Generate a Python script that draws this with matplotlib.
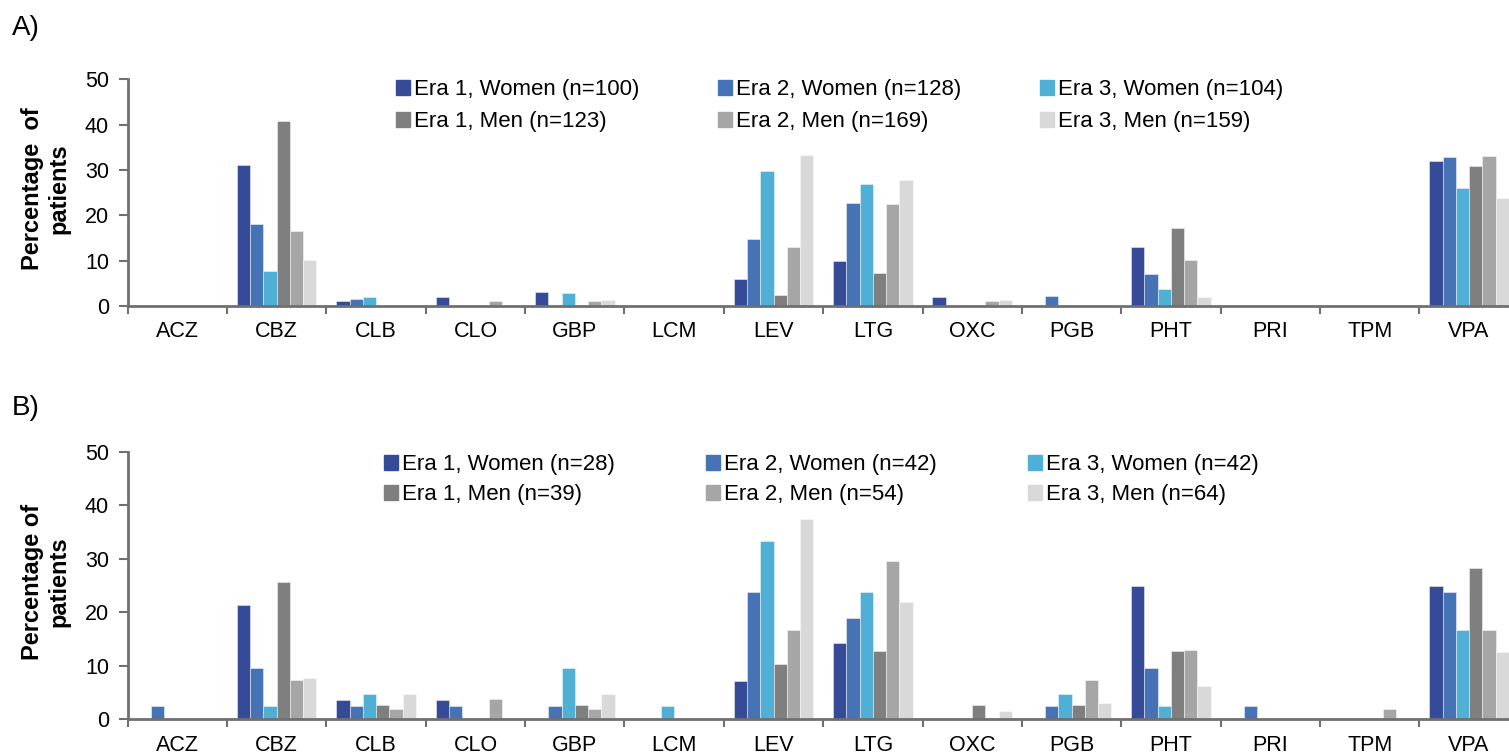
import numpy as np
import matplotlib.pyplot as plt
from matplotlib.patches import Patch
from matplotlib.legend import Legend

plt.rcParams['font.family'] = ['Liberation Sans', 'DejaVu Sans']

drugs = ["ACZ", "CBZ", "CLB", "CLO", "GBP", "LCM", "LEV", "LTG",
         "OXC", "PGB", "PHT", "PRI", "TPM", "VPA"]

# Panel A - percentage of patients per drug
a_era1_women = [0, 31.0, 1.0, 2.0, 3.0, 0, 6.0, 10.0, 2.0, 0, 13.0, 0, 0, 32.0]
a_era2_women = [0, 18.0, 1.6, 0, 0, 0, 14.8, 22.7, 0, 2.3, 7.0, 0, 0, 32.8]
a_era3_women = [0, 7.7, 1.9, 0, 2.9, 0, 29.8, 26.9, 0, 0, 3.8, 0, 0, 26.0]
a_era1_men = [0, 40.7, 0, 0, 0, 0, 2.4, 7.3, 0, 0, 17.1, 0, 0, 30.9]
a_era2_men = [0, 16.6, 0, 1.2, 1.2, 0, 13.0, 22.5, 1.2, 0, 10.1, 0, 0, 33.1]
a_era3_men = [0, 10.1, 0, 0, 1.3, 0, 33.3, 27.7, 1.3, 0, 1.9, 0, 0, 23.9]
a_labels = ["Era 1, Women (n=100)", "Era 2, Women (n=128)", "Era 3, Women (n=104)",
            "Era 1, Men (n=123)", "Era 2, Men (n=169)", "Era 3, Men (n=159)"]

# Panel B
b_era1_women = [0, 21.4, 3.6, 3.6, 0, 0, 7.1, 14.3, 0, 0, 25.0, 0, 0, 25.0]
b_era2_women = [2.4, 9.5, 2.4, 2.4, 2.4, 0, 23.8, 19.0, 0, 2.4, 9.5, 2.4, 0, 23.8]
b_era3_women = [0, 2.4, 4.8, 0, 9.5, 2.4, 33.3, 23.8, 0, 4.8, 2.4, 0, 0, 16.7]
b_era1_men = [0, 25.6, 2.6, 0, 2.6, 0, 10.3, 12.8, 2.6, 2.6, 12.8, 0, 0, 28.2]
b_era2_men = [0, 7.4, 1.9, 3.7, 1.9, 0, 16.7, 29.6, 0, 7.4, 13.0, 0, 1.9, 16.7]
b_era3_men = [0, 7.8, 4.7, 0, 4.7, 0, 37.5, 21.9, 1.6, 3.1, 6.3, 0, 0, 12.5]
b_labels = ["Era 1, Women (n=28)", "Era 2, Women (n=42)", "Era 3, Women (n=42)",
            "Era 1, Men (n=39)", "Era 2, Men (n=54)", "Era 3, Men (n=64)"]

colors = ['#354B97', '#4672B6', '#4FAFD4', '#7F7F7F', '#A6A6A6', '#D9D9D9']
axis_grey = '#707070'

W, H = 1509, 756
fig = plt.figure(figsize=(W / 100, H / 100), dpi=100)


def px(x0, y0, x1, y1):
    # pixel box (top-left origin) -> figure fraction rect
    return [x0 / W, 1 - y1 / H, (x1 - x0) / W, (y1 - y0) / H]


def draw_panel(rect, series, labels, leg_x, leg_top, spacing, letter, letter_y, ylab, ylab_y):
    ax = fig.add_axes(rect)
    x = np.arange(len(drugs))
    w = 0.8 / 6
    for j, vals in enumerate(series):
        ax.bar(x + (j - 2.5) * w, vals, width=w, color=colors[j],
               edgecolor=(1, 1, 1, 0.45), linewidth=0.7, zorder=2)
    ax.set_xlim(-0.5, len(drugs) - 0.5)
    ax.set_ylim(0, 50)
    ax.set_yticks(range(0, 51, 10))
    ax.set_xticks(x)
    ax.set_xticklabels(drugs, fontsize=15.5)
    ax.set_xticks(np.arange(len(drugs) + 1) - 0.5, minor=True)
    ax.tick_params(axis='x', which='major', length=0, pad=11)
    ax.tick_params(axis='x', which='minor', length=5.5, width=1.5, color=axis_grey, direction='out')
    ax.tick_params(axis='y', length=6.5, width=1.5, color=axis_grey, labelsize=15.5, pad=7)
    for s in ['top', 'right']:
        ax.spines[s].set_visible(False)
    for s in ['left', 'bottom']:
        ax.spines[s].set_color(axis_grey)
        ax.spines[s].set_linewidth(2)
    ax.spines['bottom'].set_zorder(3)

    # legend: three columns, women on top row, men below
    for k in range(3):
        hs = [Patch(color=colors[k]), Patch(color=colors[k + 3])]
        leg = Legend(ax, hs, [labels[k], labels[k + 3]], loc='upper left',
                     bbox_to_anchor=(leg_x[k] / W, 1 - leg_top / H),
                     bbox_transform=fig.transFigure, frameon=False,
                     fontsize=16, handlelength=0.65, handleheight=0.65,
                     handletextpad=0.15, labelspacing=spacing,
                     borderpad=0, borderaxespad=0)
        ax.add_artist(leg)

    fig.text(12 / W, 1 - letter_y / H, letter, fontsize=20, va='baseline', ha='left')
    fig.text(46 / W, 1 - ylab_y / H, ylab, fontsize=17, fontweight='bold',
             rotation=90, ha='center', va='center', multialignment='center',
             linespacing=1.2)
    return ax


draw_panel(px(127.7, 79.3, 1518.7, 306.0),
           [a_era1_women, a_era2_women, a_era3_women, a_era1_men, a_era2_men, a_era3_men],
           a_labels, [396, 718, 1040], 79, 0.5, "A)", 35, "Percentage  of\npatients", 188.5)

draw_panel(px(127.7, 451.7, 1518.7, 719.3),
           [b_era1_women, b_era2_women, b_era3_women, b_era1_men, b_era2_men, b_era3_men],
           b_labels, [384, 706, 1028], 454, 0.42, "B)", 415, "Percentage of\npatients", 581.7)

fig.savefig("out.png", dpi=100)
